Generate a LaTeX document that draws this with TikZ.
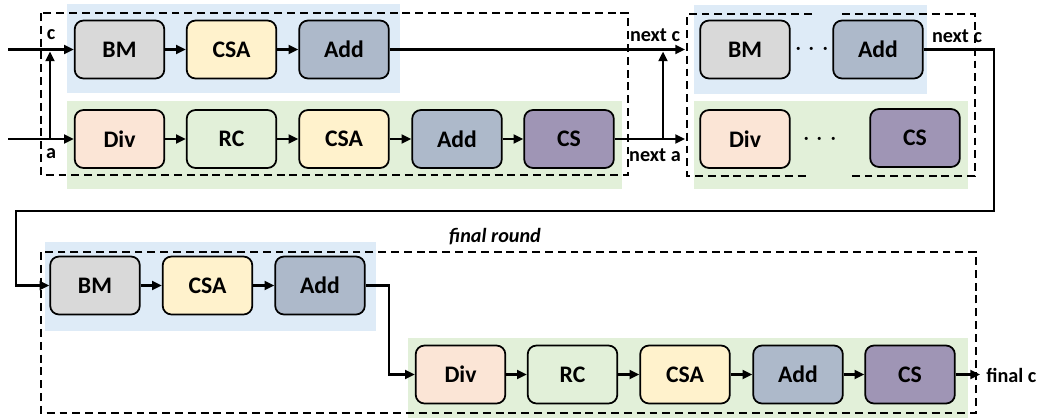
\documentclass[tikz,border=0pt]{standalone}
\usepackage{fontspec}
\setmainfont{Carlito}
\usepackage{xcolor}
\usepackage{tikz}
\usetikzlibrary{arrows.meta}
\definecolor{bmgray}{HTML}{D9D9D9}
\definecolor{csayellow}{HTML}{FFF2CC}
\definecolor{addblue}{HTML}{ADB9CA}
\definecolor{divpeach}{HTML}{FBE5D6}
\definecolor{rcgreen}{HTML}{E2F0D9}
\definecolor{cspurple}{HTML}{9F95B5}
\definecolor{bgblue}{HTML}{DEEBF7}
\definecolor{bggreen}{HTML}{E2F0D9}
\tikzstyle{arrow} = [line width=1.4pt,-{Triangle[length=5.5pt,width=5pt]}]
\tikzstyle{blk} = [draw,line width=1pt,rounded corners=5pt,minimum width=51pt,minimum height=33pt,font=\bfseries\fontsize{13.5}{15}\selectfont]
\tikzstyle{roundbox} = [line width=0.9pt,dash pattern=on 4.5pt off 2.8pt]
\tikzstyle{lbl} = [inner sep=0pt,font=\bfseries\fontsize{11.5}{13}\selectfont]
\tikzstyle{gap} = [font=\fontsize{17}{18}\selectfont]

\begin{document}
\begin{tikzpicture}[x=0.02cm,y=-0.02cm]
        \useasboundingbox (0,0) rectangle (1043,419);
        % backgrounds
        \fill[bgblue] (67,4) rectangle (400,93);
        \fill[bggreen] (67,101) rectangle (622,189);
        \fill[bgblue] (694,5) rectangle (927,94);
        \fill[bggreen] (694,101) rectangle (968,189);
        \fill[bgblue] (45,242) rectangle (376,331);
        \fill[bggreen] (408,338) rectangle (968,418);
        % rounds
        \draw[roundbox] (41,13) rectangle (628,175);
        \draw[roundbox] (812,14) -- (687,14) -- (687,176) -- (806,176);
        \draw[roundbox] (842,14) -- (975,14) -- (975,176) -- (850,176);
        \draw[roundbox] (41,252) rectangle (976,413);
        \node[lbl,font=\bfseries\itshape\fontsize{11.5}{13}\selectfont] (fr) at (495,237) {final round};
        % first round
        \node[blk,fill=bmgray] (bm1) at (119.5,49.5) {BM};
        \node[blk,fill=csayellow] (csa1) at (231.5,49.5) {CSA};
        \node[blk,fill=addblue] (add1) at (344,49.5) {Add};
        \node[blk,fill=divpeach] (div1) at (119.5,139) {Div};
        \node[blk,fill=rcgreen] (rc1) at (231.5,139) {RC};
        \node[blk,fill=csayellow] (csb1) at (344,139) {CSA};
        \node[blk,fill=addblue] (adb1) at (457,139) {Add};
        \node[blk,fill=cspurple] (cs1) at (569,139) {CS};
        % second round
        \node[blk,fill=bmgray] (bm2) at (745,49.5) {BM};
        \node[blk,fill=addblue] (add2) at (878,49.5) {Add};
        \node[blk,fill=divpeach] (div2) at (745,139) {Div};
        \node[blk,fill=cspurple] (cs2) at (915,138) {CS};
        \node[gap] (dots1) at (812,49.5) {$\cdots$};
        \node[gap] (dots2) at (820,140) {$\cdots$};
        % final round
        \node[blk,fill=bmgray] (bm3) at (95,285.5) {BM};
        \node[blk,fill=csayellow] (csa3) at (207.5,285.5) {CSA};
        \node[blk,fill=addblue] (add3) at (320,285.5) {Add};
        \node[blk,fill=divpeach] (div3) at (460.5,374.5) {Div};
        \node[blk,fill=rcgreen] (rc3) at (572.5,374.5) {RC};
        \node[blk,fill=csayellow] (csb3) at (685,374.5) {CSA};
        \node[blk,fill=addblue] (adb3) at (798,374.5) {Add};
        \node[blk,fill=cspurple] (cs3) at (910,374.5) {CS};
        % labels
        \node[lbl] (lc) at (51,35) {c};
        \node[lbl] (la) at (51,154) {a};
        \node[lbl] (lnc1) at (655,35) {next c};
        \node[lbl] (lna1) at (655,155) {next a};
        \node[lbl] (lnc2) at (957,36) {next c};
        \node[lbl,anchor=west] (lfc) at (986,375) {final c};
        % free ends
        \coordinate (cin) at (8,49.5);
        \coordinate (ain) at (8,139);
        \coordinate (asplit) at (50,139);
        \coordinate (cjoin) at (50,51.5);
        \coordinate (cnext) at (685,49.5);
        \coordinate (anext) at (685,139);
        \coordinate (asplit2) at (663,139);
        \coordinate (cjoin2) at (663,51.5);
        \coordinate (turnR) at (994,211);
        \coordinate (turnL) at (16,211);
        \coordinate (drop) at (389,330);
        \coordinate (cout) at (980,374.5);
        % edges
        \draw[arrow] (cin) -- (bm1);
        \draw[arrow] (ain) -- (div1);
        \draw[arrow] (asplit) -- (cjoin);
        \draw[arrow] (bm1) -- (csa1);
        \draw[arrow] (csa1) -- (add1);
        \draw[arrow] (div1) -- (rc1);
        \draw[arrow] (rc1) -- (csb1);
        \draw[arrow] (csb1) -- (adb1);
        \draw[arrow] (adb1) -- (cs1);
        \draw[arrow] (add1) -- (cnext);
        \draw[arrow] (cs1) -- (anext);
        \draw[arrow] (asplit2) -- (cjoin2);
        \draw[arrow] (add2.east) -| (turnR) -- (turnL) |- (bm3.west);
        \draw[arrow] (bm3) -- (csa3);
        \draw[arrow] (csa3) -- (add3);
        \draw[arrow] (add3.east) -| (drop) |- (div3.west);
        \draw[arrow] (div3) -- (rc3);
        \draw[arrow] (rc3) -- (csb3);
        \draw[arrow] (csb3) -- (adb3);
        \draw[arrow] (adb3) -- (cs3);
        \draw[arrow] (cs3) -- (cout);
\end{tikzpicture}
\end{document}
